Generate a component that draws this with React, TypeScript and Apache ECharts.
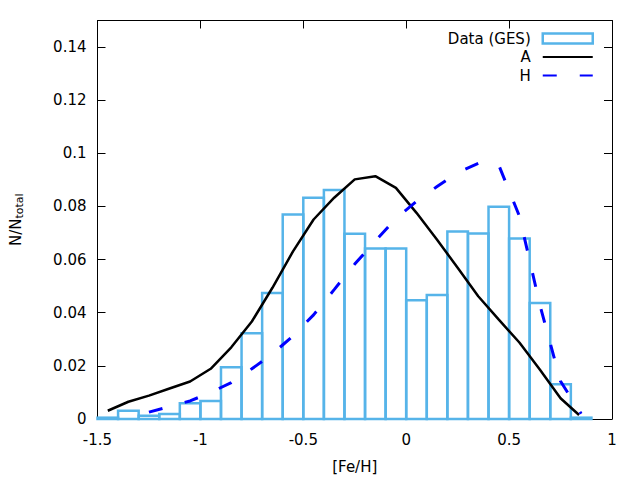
import React, { useEffect, useRef } from "react";
import * as echarts from "echarts";

const FONT = "DejaVu Sans";

// Histogram bins (left edges), width 0.1
const binLeft = [-1.5, -1.4, -1.3, -1.2, -1.1, -1.0, -0.9, -0.8, -0.7, -0.6, -0.5, -0.4, -0.3, -0.2, -0.1, 0.0, 0.1, 0.2, 0.3, 0.4, 0.5, 0.6, 0.7, 0.8];
const binWidth = 0.1;
const gesValues = [0.0005, 0.0031, 0.0012, 0.0019, 0.0059, 0.0068, 0.0195, 0.0323, 0.0474, 0.0770, 0.0833, 0.0862, 0.0697, 0.0642, 0.0642, 0.0447, 0.0467, 0.0706, 0.0698, 0.0799, 0.0679, 0.0437, 0.0131, 0.0005];

// Model A
const aX = [-1.45, -1.35, -1.25, -1.15, -1.05, -0.95, -0.85, -0.75, -0.65, -0.55, -0.45, -0.35, -0.25, -0.15, -0.05, 0.05, 0.15, 0.25, 0.35, 0.45, 0.55, 0.65, 0.75, 0.84];
const aY = [0.0031, 0.0065, 0.0088, 0.0115, 0.0141, 0.0189, 0.0270, 0.0367, 0.0494, 0.0631, 0.0751, 0.0833, 0.0902, 0.0914, 0.0870, 0.0776, 0.0675, 0.0569, 0.0462, 0.0374, 0.0288, 0.0185, 0.0078, 0.0015];

// Model H
const hX = [-1.25, -1.15, -1.05, -0.95, -0.85, -0.75, -0.65, -0.55, -0.45, -0.35, -0.25, -0.15, -0.05, 0.05, 0.15, 0.25, 0.35, 0.45, 0.55, 0.65, 0.75, 0.85];
const hY = [0.0026, 0.0047, 0.0068, 0.0100, 0.0137, 0.0189, 0.0245, 0.0313, 0.0392, 0.0487, 0.0583, 0.0670, 0.0755, 0.0819, 0.0875, 0.0928, 0.0962, 0.0955, 0.0764, 0.0428, 0.0142, 0.0020];

const xTicks = { min: -1.5, max: 1, interval: 0.5 };
const yTicks = { min: 0, max: 0.15, interval: 0.02 };

const BAR = "#56B4E9";

export default function App() {
  const ref = useRef<HTMLDivElement>(null);
  useEffect(() => {
    if (!ref.current) return;
    const chart = echarts.init(ref.current, undefined, { renderer: "svg" });
    const histData = binLeft.map((x, i) => [x, x + binWidth, gesValues[i]]);
    const axisCommon = {
      axisLine: { show: true, onZero: false, lineStyle: { color: "#000", width: 1 } },
      axisTick: { show: true, inside: true, length: 8, lineStyle: { color: "#000", width: 1 } },
      splitLine: { show: false },
    };
    chart.setOption({
      animation: false,
      textStyle: { fontFamily: FONT },
      grid: { left: 94, right: 28, top: 20.5, bottom: 61, containLabel: false },
      legend: {
        orient: "vertical",
        right: 41,
        top: 26,
        align: "right",
        itemWidth: 50,
        itemHeight: 10,
        itemGap: 3.5,
        selectedMode: false,
        textStyle: { fontFamily: FONT, fontSize: 15, color: "#000", padding: [0, 7, 0, 0] },
        data: [
          { name: "Data (GES)", icon: "rect", itemStyle: { color: "transparent", borderColor: BAR, borderWidth: 2.5 } },
          { name: "A", itemStyle: { color: "transparent", borderWidth: 0, opacity: 0 } },
          { name: "H", itemStyle: { color: "transparent", borderWidth: 0, opacity: 0 } },
        ],
      },
      xAxis: [
        {
          type: "value",
          position: "bottom",
          ...xTicks,
          ...axisCommon,
          axisLabel: { fontFamily: FONT, fontSize: 15, color: "#000", margin: 13 },
          name: "[Fe/H]",
          nameLocation: "middle",
          nameGap: 40,
          nameTextStyle: { fontFamily: FONT, fontSize: 15, color: "#000" },
        },
        {
          type: "value",
          position: "top",
          ...xTicks,
          ...axisCommon,
          axisLabel: { show: false },
        },
      ],
      yAxis: [
        {
          type: "value",
          position: "left",
          ...yTicks,
          ...axisCommon,
          axisLabel: { fontFamily: FONT, fontSize: 15, color: "#000", margin: 11, showMaxLabel: false },
          name: "{n|N/N}{s|total}",
          nameLocation: "middle",
          nameGap: 73,
          nameRotate: 90,
          nameTextStyle: {
            rich: {
              n: { fontFamily: FONT, fontSize: 15, color: "#000" },
              s: { fontFamily: FONT, fontSize: 11, color: "#000", padding: [7, 0, 0, 0] },
            },
          },
        },
        {
          type: "value",
          position: "right",
          ...yTicks,
          ...axisCommon,
          axisLabel: { show: false },
        },
      ],
      series: [
        {
          name: "Data (GES)",
          type: "custom",
          xAxisIndex: 0,
          yAxisIndex: 0,
          z: 2,
          encode: { x: [0, 1], y: 2 },
          data: histData,
          itemStyle: { color: BAR },
          renderItem: (params: any, api: any) => {
            const x0 = api.value(0);
            const x1 = api.value(1);
            const v = api.value(2);
            const p0 = api.coord([x0, v]);
            const p1 = api.coord([x1, 0]);
            return {
              type: "rect",
              shape: { x: p0[0], y: p0[1], width: p1[0] - p0[0], height: p1[1] - p0[1] },
              style: { fill: "none", stroke: BAR, lineWidth: 2.5 },
            };
          },
        },
        {
          name: "A",
          type: "line",
          xAxisIndex: 0,
          yAxisIndex: 0,
          z: 3,
          symbol: "none",
          data: aX.map((x, i) => [x, aY[i]]),
          lineStyle: { color: "#000", width: 2.5 },
          itemStyle: { color: "#000" },
        },
        {
          name: "H",
          type: "line",
          xAxisIndex: 0,
          yAxisIndex: 0,
          z: 4,
          symbol: "none",
          data: hX.map((x, i) => [x, hY[i]]),
          lineStyle: { color: "#0000FF", width: 3, type: [14, 23] },
          itemStyle: { color: "#0000FF" },
        },
      ],
    });
    return () => chart.dispose();
  }, []);
  return <div ref={ref} style={{ position: "fixed", left: 0, top: 0, width: 640, height: 480, background: "#fff" }} />;
}
